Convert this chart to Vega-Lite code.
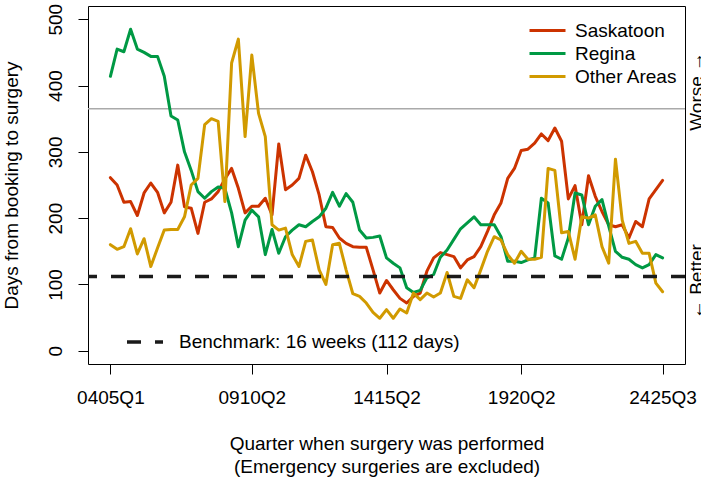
{
  "$schema": "https://vega.github.io/schema/vega-lite/v6.json",
  "width": 597,
  "height": 358,
  "autosize": {"type": "none"},
  "padding": {"left": 88, "top": 6, "right": 16, "bottom": 114},
  "background": "white",
  "config": {
    "font": "Liberation Sans",
    "view": {"stroke": "black", "strokeWidth": 1},
    "axis": {"labelFont": "Liberation Sans", "titleFont": "Liberation Sans", "labelColor": "black", "titleColor": "black", "tickColor": "black", "labelFontSize": 19, "titleFontSize": 19, "titleFontWeight": "normal", "grid": false, "domain": false},
    "legend": {"labelFont": "Liberation Sans", "labelFontSize": 19, "labelColor": "black", "padding": 0, "labelLimit": 0}
  },
  "datasets": {
    "waits": [
      {"q":"0405Q1","Saskatoon":261,"Regina":414,"Other Areas":160},
      {"q":"0405Q2","Saskatoon":250,"Regina":455,"Other Areas":153},
      {"q":"0405Q3","Saskatoon":224,"Regina":451,"Other Areas":157},
      {"q":"0405Q4","Saskatoon":225,"Regina":485,"Other Areas":184},
      {"q":"0506Q1","Saskatoon":204,"Regina":455,"Other Areas":146},
      {"q":"0506Q2","Saskatoon":238,"Regina":450,"Other Areas":169},
      {"q":"0506Q3","Saskatoon":253,"Regina":444,"Other Areas":127},
      {"q":"0506Q4","Saskatoon":239,"Regina":444,"Other Areas":155},
      {"q":"0607Q1","Saskatoon":208,"Regina":414,"Other Areas":182},
      {"q":"0607Q2","Saskatoon":224,"Regina":354,"Other Areas":183},
      {"q":"0607Q3","Saskatoon":280,"Regina":348,"Other Areas":183},
      {"q":"0607Q4","Saskatoon":217,"Regina":300,"Other Areas":202},
      {"q":"0708Q1","Saskatoon":215,"Regina":272,"Other Areas":250},
      {"q":"0708Q2","Saskatoon":177,"Regina":240,"Other Areas":260},
      {"q":"0708Q3","Saskatoon":224,"Regina":230,"Other Areas":341},
      {"q":"0708Q4","Saskatoon":229,"Regina":240,"Other Areas":350},
      {"q":"0809Q1","Saskatoon":240,"Regina":247,"Other Areas":346},
      {"q":"0809Q2","Saskatoon":259,"Regina":245,"Other Areas":225},
      {"q":"0809Q3","Saskatoon":275,"Regina":208,"Other Areas":434},
      {"q":"0809Q4","Saskatoon":245,"Regina":157,"Other Areas":470},
      {"q":"0910Q1","Saskatoon":208,"Regina":197,"Other Areas":323},
      {"q":"0910Q2","Saskatoon":218,"Regina":212,"Other Areas":446},
      {"q":"0910Q3","Saskatoon":218,"Regina":202,"Other Areas":358},
      {"q":"0910Q4","Saskatoon":230,"Regina":145,"Other Areas":323},
      {"q":"1011Q1","Saskatoon":205,"Regina":183,"Other Areas":190},
      {"q":"1011Q2","Saskatoon":312,"Regina":147,"Other Areas":182},
      {"q":"1011Q3","Saskatoon":243,"Regina":172,"Other Areas":185},
      {"q":"1011Q4","Saskatoon":250,"Regina":182,"Other Areas":145},
      {"q":"1112Q1","Saskatoon":260,"Regina":190,"Other Areas":127},
      {"q":"1112Q2","Saskatoon":295,"Regina":187,"Other Areas":165},
      {"q":"1112Q3","Saskatoon":270,"Regina":195,"Other Areas":167},
      {"q":"1112Q4","Saskatoon":235,"Regina":202,"Other Areas":122},
      {"q":"1213Q1","Saskatoon":187,"Regina":215,"Other Areas":100},
      {"q":"1213Q2","Saskatoon":186,"Regina":239,"Other Areas":160},
      {"q":"1213Q3","Saskatoon":170,"Regina":218,"Other Areas":162},
      {"q":"1213Q4","Saskatoon":162,"Regina":237,"Other Areas":122},
      {"q":"1314Q1","Saskatoon":157,"Regina":224,"Other Areas":86},
      {"q":"1314Q2","Saskatoon":156,"Regina":182,"Other Areas":82},
      {"q":"1314Q3","Saskatoon":156,"Regina":170,"Other Areas":72},
      {"q":"1314Q4","Saskatoon":122,"Regina":171,"Other Areas":58},
      {"q":"1415Q1","Saskatoon":87,"Regina":173,"Other Areas":49},
      {"q":"1415Q2","Saskatoon":106,"Regina":140,"Other Areas":62},
      {"q":"1415Q3","Saskatoon":92,"Regina":132,"Other Areas":49},
      {"q":"1415Q4","Saskatoon":79,"Regina":125,"Other Areas":63},
      {"q":"1516Q1","Saskatoon":72,"Regina":95,"Other Areas":57},
      {"q":"1516Q2","Saskatoon":82,"Regina":88,"Other Areas":87},
      {"q":"1516Q3","Saskatoon":87,"Regina":91,"Other Areas":77},
      {"q":"1516Q4","Saskatoon":120,"Regina":110,"Other Areas":87},
      {"q":"1617Q1","Saskatoon":140,"Regina":115,"Other Areas":81},
      {"q":"1617Q2","Saskatoon":148,"Regina":141,"Other Areas":87},
      {"q":"1617Q3","Saskatoon":145,"Regina":152,"Other Areas":118},
      {"q":"1617Q4","Saskatoon":142,"Regina":168,"Other Areas":82},
      {"q":"1718Q1","Saskatoon":125,"Regina":184,"Other Areas":79},
      {"q":"1718Q2","Saskatoon":137,"Regina":193,"Other Areas":107},
      {"q":"1718Q3","Saskatoon":142,"Regina":202,"Other Areas":95},
      {"q":"1718Q4","Saskatoon":157,"Regina":190,"Other Areas":122},
      {"q":"1819Q1","Saskatoon":180,"Regina":190,"Other Areas":150},
      {"q":"1819Q2","Saskatoon":205,"Regina":190,"Other Areas":172},
      {"q":"1819Q3","Saskatoon":223,"Regina":172,"Other Areas":167},
      {"q":"1819Q4","Saskatoon":260,"Regina":135,"Other Areas":145},
      {"q":"1920Q1","Saskatoon":275,"Regina":135,"Other Areas":132},
      {"q":"1920Q2","Saskatoon":302,"Regina":133,"Other Areas":150},
      {"q":"1920Q3","Saskatoon":304,"Regina":137,"Other Areas":138},
      {"q":"1920Q4","Saskatoon":313,"Regina":140,"Other Areas":138},
      {"q":"2021Q1","Saskatoon":327,"Regina":230,"Other Areas":141},
      {"q":"2021Q2","Saskatoon":317,"Regina":223,"Other Areas":275},
      {"q":"2021Q3","Saskatoon":336,"Regina":143,"Other Areas":272},
      {"q":"2021Q4","Saskatoon":316,"Regina":138,"Other Areas":178},
      {"q":"2122Q1","Saskatoon":229,"Regina":170,"Other Areas":180},
      {"q":"2122Q2","Saskatoon":249,"Regina":238,"Other Areas":138},
      {"q":"2122Q3","Saskatoon":190,"Regina":235,"Other Areas":202},
      {"q":"2122Q4","Saskatoon":264,"Regina":190,"Other Areas":200},
      {"q":"2223Q1","Saskatoon":233,"Regina":218,"Other Areas":205},
      {"q":"2223Q2","Saskatoon":210,"Regina":228,"Other Areas":157},
      {"q":"2223Q3","Saskatoon":190,"Regina":188,"Other Areas":132},
      {"q":"2223Q4","Saskatoon":187,"Regina":150,"Other Areas":289},
      {"q":"2324Q1","Saskatoon":190,"Regina":141,"Other Areas":197},
      {"q":"2324Q2","Saskatoon":170,"Regina":138,"Other Areas":162},
      {"q":"2324Q3","Saskatoon":195,"Regina":130,"Other Areas":165},
      {"q":"2324Q4","Saskatoon":187,"Regina":125,"Other Areas":147},
      {"q":"2425Q1","Saskatoon":229,"Regina":130,"Other Areas":147},
      {"q":"2425Q2","Saskatoon":243,"Regina":145,"Other Areas":102},
      {"q":"2425Q3","Saskatoon":257,"Regina":140,"Other Areas":89}
    ],
    "bench": [{"label": "Benchmark: 16 weeks (112 days)", "days": 112}],
    "ref": [{"days": 365}]
  },
  "resolve": {"axis": {"y": "independent"}},
  "layer": [
    {
      "data": {"name": "ref"},
      "mark": {"type": "rule", "color": "#AAAAAA", "strokeWidth": 1.5},
      "encoding": {
        "y": {
          "field": "days", "type": "quantitative",
          "scale": {"domain": [-20, 520], "nice": false, "zero": false},
          "axis": {
            "orient": "right", "values": [392, 105], "title": null,
            "labelExpr": "datum.value > 200 ? 'Worse \u2192' : '\u2190 Better'",
            "labelAngle": -90, "labelAlign": "center", "labelBaseline": "top",
            "ticks": false, "tickSize": 0, "labelPadding": 2, "labelBound": false, "labelOverlap": false, "labelFlush": false
          }
        }
      }
    },
    {
      "data": {"name": "waits"},
      "transform": [{"fold": ["Saskatoon", "Regina", "Other Areas"], "as": ["region", "days"]}],
      "mark": {"type": "line", "strokeWidth": 3, "strokeCap": "round", "strokeJoin": "round"},
      "encoding": {
        "x": {
          "field": "q", "type": "ordinal",
          "scale": {"type": "point", "padding": 0, "range": [22.4, 574.6]},
          "axis": {
            "values": ["0405Q1", "0910Q2", "1415Q2", "1920Q2", "2425Q3"],
            "labelAngle": 0, "tickSize": 10, "labelPadding": 14, "labelBaseline": "top",
            "title": ["Quarter when surgery was performed", "(Emergency surgeries are excluded)"],
            "titleLineHeight": 23, "titleBaseline": "alphabetic", "titleY": 85, "titleX": 298.5, "titleAnchor": "middle"
          }
        },
        "y": {
          "field": "days", "type": "quantitative",
          "scale": {"domain": [-20, 520], "nice": false, "zero": false},
          "axis": {
            "orient": "left", "values": [0, 100, 200, 300, 400, 500],
            "labelAngle": -90, "labelAlign": "center", "labelBaseline": "alphabetic",
            "tickSize": 10, "labelPadding": 17,
            "title": "Days from booking to surgery",
            "titleAngle": -90, "titleAlign": "center", "titleBaseline": "alphabetic", "titleX": -71, "titleY": 179
          }
        },
        "color": {
          "field": "region", "type": "nominal",
          "scale": {"domain": ["Saskatoon", "Regina", "Other Areas"], "range": ["#CC3300", "#009944", "#D19A00"]},
          "legend": {
            "title": null, "orient": "none", "legendX": 449, "legendY": 14,
            "symbolType": "M-2,0H2", "symbolSize": 324, "symbolStrokeWidth": 3,
            "labelOffset": 17, "rowPadding": 2
          }
        }
      }
    },
    {
      "data": {"name": "bench"},
      "mark": {"type": "rule", "color": "#1A1A1A", "strokeWidth": 3.5},
      "encoding": {
        "y": {"field": "days", "type": "quantitative", "scale": {"domain": [-20, 520], "nice": false, "zero": false}, "axis": null},
        "strokeDash": {
          "field": "label", "type": "nominal",
          "scale": {"domain": ["Benchmark: 16 weeks (112 days)"], "range": [[14, 14]]},
          "legend": {
            "title": null, "orient": "none", "legendX": 46, "legendY": 325,
            "symbolType": "M-2,0H2", "symbolSize": 324, "symbolStrokeWidth": 3.5, "symbolStrokeColor": "#1A1A1A",
            "labelOffset": 23
          }
        }
      }
    }
  ]
}
